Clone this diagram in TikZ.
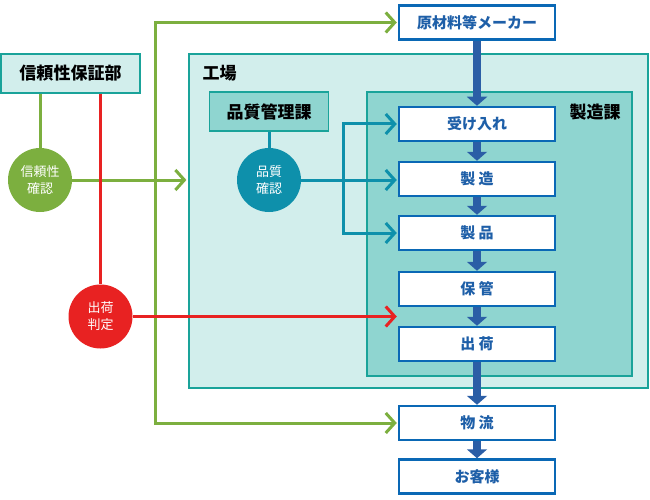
\documentclass[tikz,border=0pt]{standalone}
\usepackage{fontspec}
\setmainfont{Noto Sans CJK JP}
\usetikzlibrary{arrows.meta}
\definecolor{lfill}{HTML}{D2EEEC}
\definecolor{mfill}{HTML}{8FD5D0}
\definecolor{tborder}{HTML}{1AA39A}
\definecolor{pblue}{HTML}{0A68B5}
\definecolor{ptext}{HTML}{1E5FA8}
\definecolor{fblue}{HTML}{2B5EA6}
\definecolor{gcol}{HTML}{7CAF3F}
\definecolor{rcol}{HTML}{E82222}
\definecolor{tcol}{HTML}{0E90AB}
\tikzset{
  proc/.style={draw=pblue, line width=2.5pt, fill=white, minimum width=156pt, minimum height=34pt,
    inner sep=0pt, text=ptext, font=\fontsize{15}{18}\selectfont\bfseries},
  area/.style={draw=tborder, line width=1.2pt, inner sep=0pt},
  dept/.style={area, fill=lfill, text=black, font=\fontsize{17}{20}\selectfont\bfseries},
  circ/.style={circle, minimum size=64pt, inner sep=0pt, text=white, align=center,
    font=\fontsize{13}{17}\selectfont},
  flow/.style={line width=8pt, draw=fblue, -{Triangle[length=9pt,width=20pt]}},
  gline/.style={draw=gcol, line width=3pt},
  rline/.style={draw=rcol, line width=3pt},
  tline/.style={draw=tcol, line width=3pt},
  barb/.style={-{Straight Barb[length=9pt,width=20pt,line width=3pt]}, shorten >=1pt},
  lbl/.style={font=\fontsize{17}{20}\selectfont\bfseries, text=black}
}
\begin{document}
\begin{tikzpicture}[x=1pt,y=-1pt]
\useasboundingbox (0,0) rectangle (650,500);
% areas
\node[area, fill=lfill, minimum width=459pt, minimum height=334pt] (kojo) at (418.5,221) {};
\node[lbl] (kojolbl) at (219.5,73.5) {工場};
\node[area, fill=mfill, minimum width=265pt, minimum height=284pt] (seizoka) at (499.5,234) {};
\node[lbl] (seizokalbl) at (595,112) {製造課};
\node[dept, minimum width=139pt, minimum height=39pt] (hosho) at (70.5,73.5) {信頼性保証部};
\node[dept, fill=mfill, minimum width=119pt, minimum height=39pt] (kanri) at (269,111.5) {品質管理課};
% process boxes
\node[proc] (maker) at (477,22.5) {原材料等メーカー};
\node[proc] (ukeire) at (477,124) {受け入れ};
\node[proc] (seizo) at (477,179) {製 造};
\node[proc] (seihin) at (477,233) {製 品};
\node[proc] (hokan) at (477,289) {保 管};
\node[proc] (shukka) at (477,344) {出 荷};
\node[proc] (butsuryu) at (477,423) {物 流};
\node[proc] (kyaku) at (477,476.5) {お客様};
\draw[flow] (maker) -- (ukeire);
\draw[flow] (ukeire) -- (seizo);
\draw[flow] (seizo) -- (seihin);
\draw[flow] (seihin) -- (hokan);
\draw[flow] (hokan) -- (shukka);
\draw[flow] (shukka) -- (butsuryu);
\draw[flow] (butsuryu) -- (kyaku);
% circles
\node[circ, fill=gcol] (shinrai) at (40,180) {信頼性\\確認};
\node[circ, fill=rcol] (hantei) at (100.5,316.5) {出荷\\判定};
\node[circ, fill=tcol] (hinshitsu) at (269,180) {品質\\確認};
% green
\coordinate (gtop) at (155,22.5);
\coordinate (gbot) at (155,423);
\draw[gline] (hosho.south -| shinrai) -- (shinrai.north);
\draw[gline, barb] (gbot) -- (gtop) -- (maker.west);
\draw[gline, barb] (gtop) -- (gbot) -- (butsuryu.west);
\draw[gline, barb, shorten >=2pt] (shinrai.east) -- (shinrai.east -| kojo.west);
% red
\draw[rline] (hosho.south -| hantei) -- (hantei.north);
\draw[rline, barb] (hantei.east) -- (hantei.east -| hokan.west);
% teal
\coordinate (tb) at (343,180);
\draw[tline] (kanri.south) -- (hinshitsu.north);
\draw[tline, barb] (hinshitsu.east) -- (hinshitsu.east -| seizo.west);
\draw[tline, barb] (tb) |- (ukeire.west);
\draw[tline, barb] (tb) |- (seihin.west);
\end{tikzpicture}
\end{document}
